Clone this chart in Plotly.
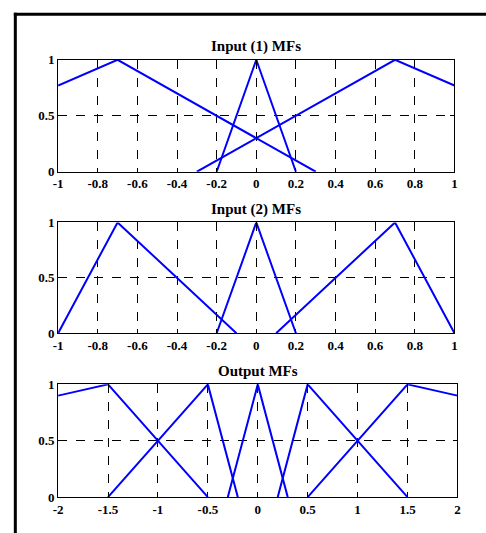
import plotly.graph_objects as go

W, H = 486, 533

# ---- data ----
in1_ticks = [-1, -0.8, -0.6, -0.4, -0.2, 0, 0.2, 0.4, 0.6, 0.8, 1]
in1_labels = ["-1", "-0.8", "-0.6", "-0.4", "-0.2", "0", "0.2", "0.4", "0.6", "0.8", "1"]
out_ticks = [-2, -1.5, -1, -0.5, 0, 0.5, 1, 1.5, 2]
out_labels = ["-2", "-1.5", "-1", "-0.5", "0", "0.5", "1", "1.5", "2"]
y_ticks = [0, 0.5, 1]
y_labels = ["0", "0.5", "1"]

# Input (1) MFs (vertices)
in1_mf1_x = [-1, -0.7, 0.3]
in1_mf1_y = [0.77, 1, 0]
in1_mf2_x = [-0.2, 0, 0.2]
in1_mf2_y = [0, 1, 0]
in1_mf3_x = [-0.3, 0.7, 1]
in1_mf3_y = [0, 1, 0.77]

# Input (2) MFs
in2_mf1_x = [-1, -0.7, -0.1]
in2_mf1_y = [0, 1, 0]
in2_mf2_x = [-0.2, 0, 0.2]
in2_mf2_y = [0, 1, 0]
in2_mf3_x = [0.1, 0.7, 1]
in2_mf3_y = [0, 1, 0]

# Output MFs
out_mf1_x = [-2, -1.5, -0.5]
out_mf1_y = [0.9, 1, 0]
out_mf2_x = [-1.5, -0.5, -0.2]
out_mf2_y = [0, 1, 0]
out_mf3_x = [-0.3, 0, 0.3]
out_mf3_y = [0, 1, 0]
out_mf4_x = [0.2, 0.5, 1.5]
out_mf4_y = [0, 1, 0]
out_mf5_x = [0.5, 1.5, 2]
out_mf5_y = [0, 1, 0.9]

titles = ["Input (1) MFs", "Input (2) MFs", "Output MFs"]

# ---- layout (pixels) ----
panels = [
    dict(x0=54, x1=457, y0=54.3, y1=169.5, rng=[-1, 1], ticks=in1_ticks, labels=in1_labels,
         mfs=[(in1_mf1_x, in1_mf1_y), (in1_mf2_x, in1_mf2_y), (in1_mf3_x, in1_mf3_y)]),
    dict(x0=54, x1=457, y0=221.7, y1=335.7, rng=[-1, 1], ticks=in1_ticks, labels=in1_labels,
         mfs=[(in2_mf1_x, in2_mf1_y), (in2_mf2_x, in2_mf2_y), (in2_mf3_x, in2_mf3_y)]),
    dict(x0=54, x1=460, y0=388.3, y1=504.3, rng=[-2, 2], ticks=out_ticks, labels=out_labels,
         mfs=[(out_mf1_x, out_mf1_y), (out_mf2_x, out_mf2_y), (out_mf3_x, out_mf3_y),
              (out_mf4_x, out_mf4_y), (out_mf5_x, out_mf5_y)]),
]

FONT = "Liberation Serif"
fig = go.Figure()
layout = dict(width=W, height=H, margin=dict(l=0, r=0, t=0, b=0),
              paper_bgcolor="white", plot_bgcolor="white", showlegend=False)
annotations = []
shapes = []

for i, p in enumerate(panels):
    n = "" if i == 0 else str(i + 1)
    xa = "x" + n
    ya = "y" + n
    for mx, my in p["mfs"]:
        fig.add_trace(go.Scatter(x=mx, y=my, mode="lines", xaxis=xa, yaxis=ya,
                                 line=dict(color="#0000ff", width=2), hoverinfo="skip"))
    common = dict(showline=True, linecolor="black", linewidth=1, mirror="ticks",
                  ticks="inside", ticklen=4, tickcolor="black", tickwidth=1,
                  showgrid=True, gridcolor="black", gridwidth=1, griddash="dash",
                  zeroline=False, fixedrange=True,
                  tickfont=dict(family=FONT, size=13, color="black", weight="bold"))
    layout["xaxis" + n] = dict(common, domain=[p["x0"] / W, p["x1"] / W],
                               range=p["rng"], tickmode="array", tickvals=p["ticks"],
                               ticktext=p["labels"], anchor=ya, ticklabelstandoff=0)
    layout["yaxis" + n] = dict(common, domain=[1 - p["y1"] / H, 1 - p["y0"] / H],
                               range=[0, 1], tickmode="array", tickvals=y_ticks,
                               ticktext=y_labels, anchor=xa, ticklabelstandoff=0)
    annotations.append(dict(text="<b>" + titles[i] + "</b>", xref="paper", yref="paper",
                            x=(p["x0"] + p["x1"]) / 2 / W, y=1 - (p["y0"] - 3) / H,
                            xanchor="center", yanchor="bottom", showarrow=False,
                            font=dict(family=FONT, size=15, color="black")))

# outer frame (left and top)
shapes.append(dict(type="line", xref="paper", yref="paper", x0=10.5 / W, x1=10.5 / W,
                   y0=-0.05, y1=1 - 6 / H, line=dict(color="black", width=3)))
shapes.append(dict(type="line", xref="paper", yref="paper", x0=9 / W, x1=1.05,
                   y0=1 - 7.5 / H, y1=1 - 7.5 / H, line=dict(color="black", width=3)))

layout["annotations"] = annotations
layout["shapes"] = shapes
fig.update_layout(**layout)
fig.write_html("out.html")
